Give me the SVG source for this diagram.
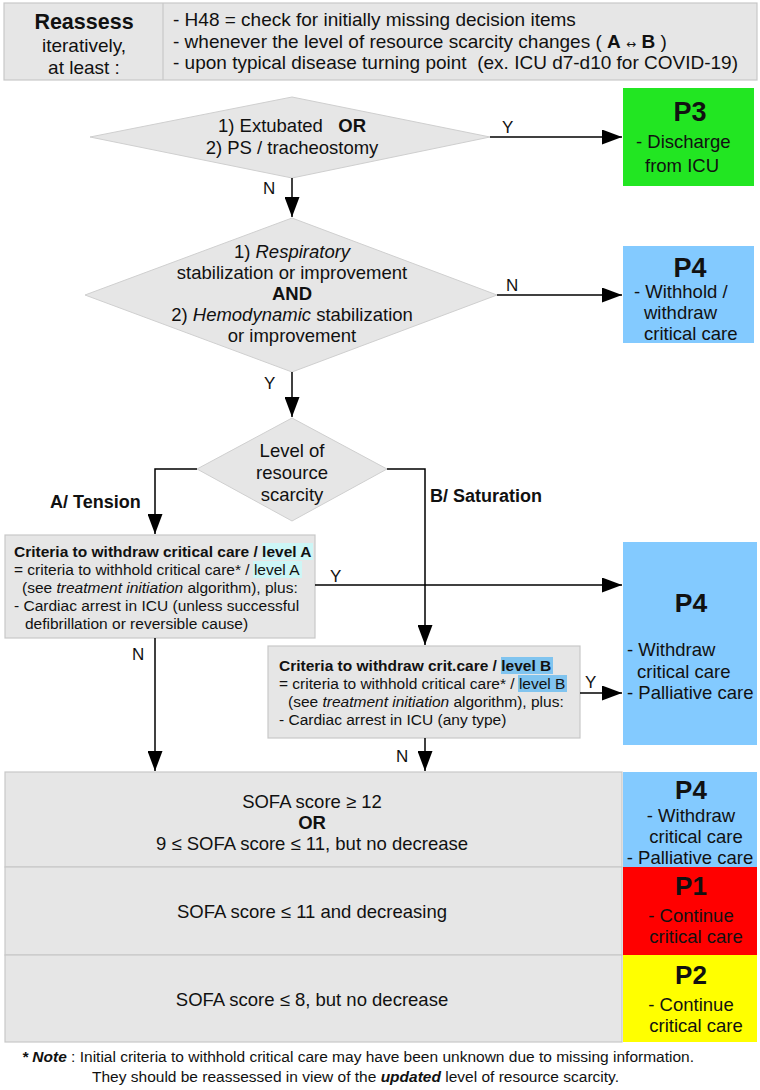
<svg xmlns="http://www.w3.org/2000/svg" width="760" height="1090" viewBox="0 0 760 1090">
<defs>
<marker id="ah" viewBox="0 0 20 15" refX="20" refY="7.5" markerWidth="20" markerHeight="15" markerUnits="userSpaceOnUse" orient="auto"><path d="M0,0 L20,7.5 L0,15 z" fill="#000"/></marker>
<style>
text{font-family:"Liberation Sans",Arial,sans-serif;fill:#111}
.box{fill:#e6e6e6;stroke:#c8c8c8;stroke-width:1.2}
.dia{fill:#e6e6e6;stroke:#cfcfcf;stroke-width:1}
.c{text-anchor:middle}
.b{font-weight:bold}
.i{font-style:italic}
.t19{font-size:19px}
.t18{font-size:18.5px}
.t15{font-size:15.5px}
.conn path{fill:none;stroke:#000;stroke-width:1.5}
.lbl{font-size:17px}
.arr{font-family:"DejaVu Sans","Liberation Sans",sans-serif;font-size:12px}
</style>
</defs>
<rect width="760" height="1090" fill="#fff"/>

<g id="header">
<rect class="box" x="4" y="3" width="753" height="77"/>
<line x1="163" y1="3" x2="163" y2="80" stroke="#c8c8c8" stroke-width="1.2"/>
<text class="c b" x="84" y="29" font-size="21.5">Reassess</text>
<text class="c t19" x="84" y="52">iteratively,</text>
<text class="c t19" x="84" y="74">at least :</text>
<text class="t19" x="173" y="26">- H48 = check for initially missing decision items</text>
<text class="t19" x="173" y="48" xml:space="preserve">- whenever the level of resource scarcity changes ( <tspan class="b">A</tspan> <tspan class="arr">↔</tspan> <tspan class="b">B</tspan> )</text>
<text class="t19" x="173" y="69" xml:space="preserve">- upon typical disease turning point  (ex. ICU d7-d10 for COVID-19)</text>
</g>

<g id="d1">
<polygon class="dia" points="292,97 490,137 292,178 90,137"/>
<text class="c t18" x="292" y="132" xml:space="preserve">1) Extubated   <tspan class="b">OR</tspan></text>
<text class="c t18" x="292" y="154">2) PS / tracheostomy</text>
</g>

<g id="p3">
<rect x="623" y="88" width="131" height="98" fill="#22e622"/>
<text class="c b" x="690" y="121" font-size="27">P3</text>
<text class="t18" x="636" y="148">- Discharge</text>
<text class="t18" x="645" y="172">from ICU</text>
</g>

<g id="d2">
<polygon class="dia" points="292,218 497,295 292,372 85,295"/>
<text class="c t18" x="292" y="258">1) <tspan class="i">Respiratory</tspan></text>
<text class="c t18" x="292" y="279">stabilization or improvement</text>
<text class="c t18 b" x="292" y="300">AND</text>
<text class="c t18" x="292" y="321">2) <tspan class="i">Hemodynamic</tspan> stabilization</text>
<text class="c t18" x="292" y="342">or improvement</text>
</g>

<g id="p4a">
<rect x="623" y="246" width="131" height="97" fill="#83caff"/>
<text class="c b" x="690" y="277" font-size="27">P4</text>
<text class="t18" x="634" y="298">- Withhold /</text>
<text class="t18" x="644" y="319">withdraw</text>
<text class="t18" x="644" y="340">critical care</text>
</g>

<g id="d3">
<polygon class="dia" points="292,418 387,469 292,521 197,469"/>
<text class="c t18" x="292" y="457">Level of</text>
<text class="c t18" x="292" y="479">resource</text>
<text class="c t18" x="292" y="501">scarcity</text>
</g>

<g id="boxA">
<rect class="box" x="5" y="535" width="310" height="103"/>
<rect x="262" y="543" width="51" height="17" fill="#cdf6f6"/>
<rect x="253" y="561" width="49" height="17" fill="#cdf6f6"/>
<text x="14" y="557" class="t15 b">Criteria to withdraw critical care / level A</text>
<text x="14" y="575" class="t15">= criteria to withhold critical care* / level A</text>
<text x="22" y="593" class="t15">(see <tspan class="i">treatment initiation</tspan> algorithm), plus:</text>
<text x="14" y="611" class="t15">- Cardiac arrest in ICU (unless successful</text>
<text x="25" y="629" class="t15">defibrillation or reversible cause)</text>
</g>

<g id="p4b">
<rect x="623" y="542" width="134" height="203" fill="#83caff"/>
<text class="c b" x="691" y="612" font-size="26.5">P4</text>
<text class="t18" x="627" y="656">- Withdraw</text>
<text class="t18" x="637" y="678">critical care</text>
<text class="t18" x="627" y="699">- Palliative care</text>
</g>

<g id="boxB">
<rect class="box" x="268" y="646" width="312" height="92"/>
<rect x="501" y="657" width="52" height="17" fill="#80c4ef"/>
<rect x="518" y="675" width="49" height="17" fill="#80c4ef"/>
<text x="279" y="671" class="t15 b">Criteria to withdraw crit.care / level B</text>
<text x="279" y="689" class="t15">= criteria to withhold critical care* / level B</text>
<text x="288" y="707" class="t15">(see <tspan class="i">treatment initiation</tspan> algorithm), plus:</text>
<text x="279" y="725" class="t15">- Cardiac arrest in ICU (any type)</text>
</g>

<g id="sofa1">
<rect class="box" x="5" y="772" width="617" height="95"/>
<text class="c t18" x="312" y="808">SOFA score ≥ 12</text>
<text class="c t18 b" x="312" y="829">OR</text>
<text class="c t18" x="312" y="850">9 ≤ SOFA score ≤ 11, but no decrease</text>
</g>
<g id="sofa2">
<rect class="box" x="5" y="867" width="617" height="88"/>
<text class="c t18" x="312" y="918">SOFA score ≤ 11 and decreasing</text>
</g>
<g id="sofa3">
<rect class="box" x="5" y="955" width="617" height="87"/>
<text class="c t18" x="312" y="1006">SOFA score ≤ 8, but no decrease</text>
</g>

<g id="p4c">
<rect x="623" y="772" width="134" height="95" fill="#83caff"/>
<text class="c b" x="691" y="799" font-size="26">P4</text>
<text class="c t18" x="691" y="822">- Withdraw</text>
<text class="c t18" x="696" y="843">critical care</text>
<text class="c t18" x="690" y="864">- Palliative care</text>
</g>
<g id="p1">
<rect x="623" y="867" width="134" height="88" fill="#ff0000"/>
<text class="c b" x="691" y="895" font-size="26">P1</text>
<text class="c t18" x="691" y="922">- Continue</text>
<text class="c t18" x="696" y="943">critical care</text>
</g>
<g id="p2">
<rect x="623" y="955" width="134" height="87" fill="#ffff00"/>
<text class="c b" x="691" y="984" font-size="26">P2</text>
<text class="c t18" x="691" y="1011">- Continue</text>
<text class="c t18" x="696" y="1032">critical care</text>
</g>

<g id="note">
<text class="t15" x="22" y="1062"><tspan class="b i">* Note</tspan> : Initial criteria to withhold critical care may have been unknown due to missing information.</text>
<text class="t15" x="92" y="1082">They should be reassessed in view of the <tspan class="b i">updated</tspan> level of resource scarcity.</text>
</g>

<g class="conn" id="connectors">
<path d="M490,137 H622" marker-end="url(#ah)"/>
<path d="M292,178 V217" marker-end="url(#ah)"/>
<path d="M497,295 H622" marker-end="url(#ah)"/>
<path d="M292,372 V417" marker-end="url(#ah)"/>
<path d="M197,469 H155 V534" marker-end="url(#ah)"/>
<path d="M387,469 H425 V645" marker-end="url(#ah)"/>
<path d="M315,585 H622" marker-end="url(#ah)"/>
<path d="M155,638 V771" marker-end="url(#ah)"/>
<path d="M580,693 H622" marker-end="url(#ah)"/>
<path d="M425,738 V771" marker-end="url(#ah)"/>
</g>
<g id="labels">
<text class="lbl" x="502" y="133">Y</text>
<text class="lbl" x="263" y="194">N</text>
<text class="lbl" x="506" y="291">N</text>
<text class="lbl" x="264" y="389">Y</text>
<text class="b" x="50" y="508" font-size="18">A/ Tension</text>
<text class="b" x="430" y="502" font-size="18">B/ Saturation</text>
<text class="lbl" x="330" y="582">Y</text>
<text class="lbl" x="132" y="660">N</text>
<text class="lbl" x="585" y="688">Y</text>
<text class="lbl" x="396" y="762">N</text>
</g>
</svg>
